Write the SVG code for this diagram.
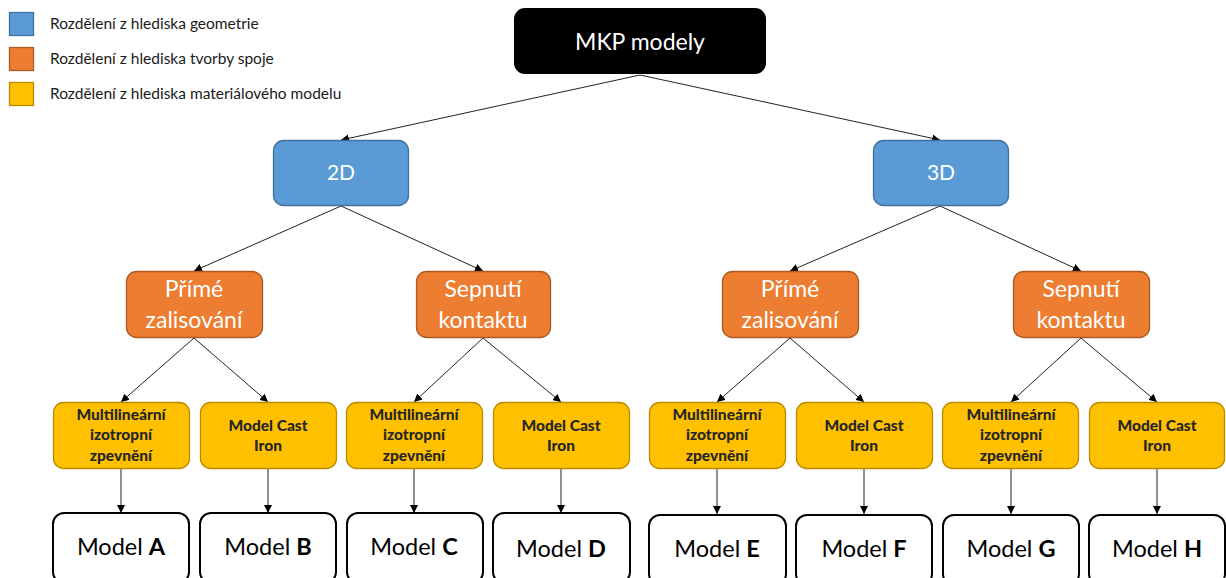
<svg xmlns="http://www.w3.org/2000/svg" width="1226" height="578" viewBox="0 0 1226 578">
<defs>
<marker id="arr" viewBox="0 0 10 10" refX="10" refY="5" markerWidth="8" markerHeight="8" markerUnits="userSpaceOnUse" orient="auto">
<path d="M0,0 L10,5 L0,10 z" fill="#000"/>
</marker>
<style>
text{font-family:Lato,"Open Sans","Liberation Sans",sans-serif}
.leg{font-size:15.5px;fill:#1a1a1a}
.blue{fill:#5B9BD5;stroke:#41719C;stroke-width:1.3}
.orange{fill:#ED7D31;stroke:#AE5A21;stroke-width:1.3}
.yellow{fill:#FFC000;stroke:#BC8C00;stroke-width:1.3}
.white{fill:#fff;stroke:#000;stroke-width:2}
.wt{fill:#fff;text-anchor:middle}
.ot{fill:#fff;text-anchor:middle;font-size:23px}
.yt{fill:#262626;font-weight:900;font-size:15.5px;text-anchor:middle}
.mt{fill:#000;font-size:23.5px;text-anchor:middle}
.conn line{stroke:#222;stroke-width:1;marker-end:url(#arr)}
</style>
</defs>
<rect width="1226" height="578" fill="#fff"/>
<g id="legend">
<rect x="9.5" y="12.5" width="24" height="23" class="blue"/>
<rect x="9.5" y="47.5" width="24" height="23" class="orange"/>
<rect x="9.5" y="82.5" width="24" height="23" class="yellow"/>
<text x="50" y="29" class="leg">Rozdělení z hlediska geometrie</text>
<text x="50" y="64" class="leg">Rozdělení z hlediska tvorby spoje</text>
<text x="50" y="99" class="leg">Rozdělení z hlediska materiálového modelu</text>
</g>
<g class="conn" id="connectors">
<line x1="640" y1="75" x2="341" y2="140"/>
<line x1="640" y1="75" x2="940" y2="140"/>
<line x1="341" y1="206" x2="194" y2="271"/>
<line x1="341" y1="206" x2="483" y2="271"/>
<line x1="940" y1="206" x2="790" y2="271"/>
<line x1="940" y1="206" x2="1081" y2="271"/>
<line x1="194" y1="338" x2="121" y2="402"/>
<line x1="194" y1="338" x2="268" y2="402"/>
<line x1="483" y1="338" x2="414" y2="402"/>
<line x1="483" y1="338" x2="561" y2="402"/>
<line x1="790" y1="338" x2="717" y2="402"/>
<line x1="790" y1="338" x2="864" y2="402"/>
<line x1="1081" y1="338" x2="1011" y2="402"/>
<line x1="1081" y1="338" x2="1157" y2="402"/>
<line x1="121" y1="468" x2="121" y2="513"/>
<line x1="268" y1="468" x2="268" y2="513"/>
<line x1="414" y1="468" x2="414" y2="513"/>
<line x1="561" y1="468" x2="561" y2="513"/>
<line x1="717" y1="468" x2="717" y2="514"/>
<line x1="864" y1="468" x2="864" y2="514"/>
<line x1="1011" y1="468" x2="1011" y2="514"/>
<line x1="1157" y1="468" x2="1157" y2="514"/>
</g>
<g id="root">
<rect x="514" y="8" width="252" height="66" rx="11" fill="#000"/>
<text x="640" y="50" class="wt" font-size="23">MKP modely</text>
</g>
<g id="n2D">
<rect x="273.5" y="140.5" width="135" height="65" rx="10" class="blue"/>
<text x="341" y="180" class="wt" font-size="21">2D</text>
</g>
<g id="n3D">
<rect x="873.5" y="140.5" width="135" height="65" rx="10" class="blue"/>
<text x="941" y="180" class="wt" font-size="21">3D</text>
</g>
<g id="p2d">
<rect x="126.5" y="271.5" width="136" height="66" rx="10" class="orange"/>
<text x="194" y="297" class="ot">Přímé</text>
<text x="194" y="328" class="ot">zalisování</text>
</g>
<g id="s2d">
<rect x="416.5" y="271.5" width="134" height="66" rx="10" class="orange"/>
<text x="483" y="297" class="ot">Sepnutí</text>
<text x="483" y="328" class="ot">kontaktu</text>
</g>
<g id="p3d">
<rect x="722.5" y="271.5" width="136" height="66" rx="10" class="orange"/>
<text x="790" y="297" class="ot">Přímé</text>
<text x="790" y="328" class="ot">zalisování</text>
</g>
<g id="s3d">
<rect x="1013.5" y="271.5" width="136" height="66" rx="10" class="orange"/>
<text x="1081" y="297" class="ot">Sepnutí</text>
<text x="1081" y="328" class="ot">kontaktu</text>
</g>
<g id="yA">
<rect x="53.5" y="402.5" width="136" height="66" rx="10" class="yellow"/>
<text x="121" y="420" class="yt">Multilineární</text>
<text x="121" y="440" class="yt">izotropní</text>
<text x="121" y="461" class="yt">zpevnění</text>
</g>
<g id="yB">
<rect x="200.5" y="402.5" width="136" height="66" rx="10" class="yellow"/>
<text x="268" y="431" class="yt">Model Cast</text>
<text x="268" y="451" class="yt">Iron</text>
</g>
<g id="yC">
<rect x="346.5" y="402.5" width="136" height="66" rx="10" class="yellow"/>
<text x="414" y="420" class="yt">Multilineární</text>
<text x="414" y="440" class="yt">izotropní</text>
<text x="414" y="461" class="yt">zpevnění</text>
</g>
<g id="yD">
<rect x="493.5" y="402.5" width="136" height="66" rx="10" class="yellow"/>
<text x="561" y="431" class="yt">Model Cast</text>
<text x="561" y="451" class="yt">Iron</text>
</g>
<g id="yE">
<rect x="649.5" y="402.5" width="136" height="66" rx="10" class="yellow"/>
<text x="717" y="420" class="yt">Multilineární</text>
<text x="717" y="440" class="yt">izotropní</text>
<text x="717" y="461" class="yt">zpevnění</text>
</g>
<g id="yF">
<rect x="796.5" y="402.5" width="136" height="66" rx="10" class="yellow"/>
<text x="864" y="431" class="yt">Model Cast</text>
<text x="864" y="451" class="yt">Iron</text>
</g>
<g id="yG">
<rect x="942.5" y="402.5" width="136" height="66" rx="10" class="yellow"/>
<text x="1011" y="420" class="yt">Multilineární</text>
<text x="1011" y="440" class="yt">izotropní</text>
<text x="1011" y="461" class="yt">zpevnění</text>
</g>
<g id="yH">
<rect x="1089.5" y="402.5" width="135" height="66" rx="10" class="yellow"/>
<text x="1157" y="431" class="yt">Model Cast</text>
<text x="1157" y="451" class="yt">Iron</text>
</g>
<g id="mA"><rect x="53" y="513" width="136" height="70" rx="11" class="white"/><text x="121" y="555" class="mt">Model <tspan font-weight="bold">A</tspan></text></g>
<g id="mB"><rect x="200" y="513" width="136" height="70" rx="11" class="white"/><text x="268" y="555" class="mt">Model <tspan font-weight="bold">B</tspan></text></g>
<g id="mC"><rect x="347" y="513" width="136" height="70" rx="11" class="white"/><text x="414" y="555" class="mt">Model <tspan font-weight="bold">C</tspan></text></g>
<g id="mD"><rect x="493" y="513" width="137" height="70" rx="11" class="white"/><text x="561" y="557" class="mt">Model <tspan font-weight="bold">D</tspan></text></g>
<g id="mE"><rect x="649" y="515" width="137" height="70" rx="11" class="white"/><text x="717" y="557" class="mt">Model <tspan font-weight="bold">E</tspan></text></g>
<g id="mF"><rect x="796" y="515" width="136" height="70" rx="11" class="white"/><text x="864" y="557" class="mt">Model <tspan font-weight="bold">F</tspan></text></g>
<g id="mG"><rect x="943" y="515" width="136" height="70" rx="11" class="white"/><text x="1011" y="557" class="mt">Model <tspan font-weight="bold">G</tspan></text></g>
<g id="mH"><rect x="1089" y="515" width="136" height="70" rx="11" class="white"/><text x="1157" y="557" class="mt">Model <tspan font-weight="bold">H</tspan></text></g>
</svg>
